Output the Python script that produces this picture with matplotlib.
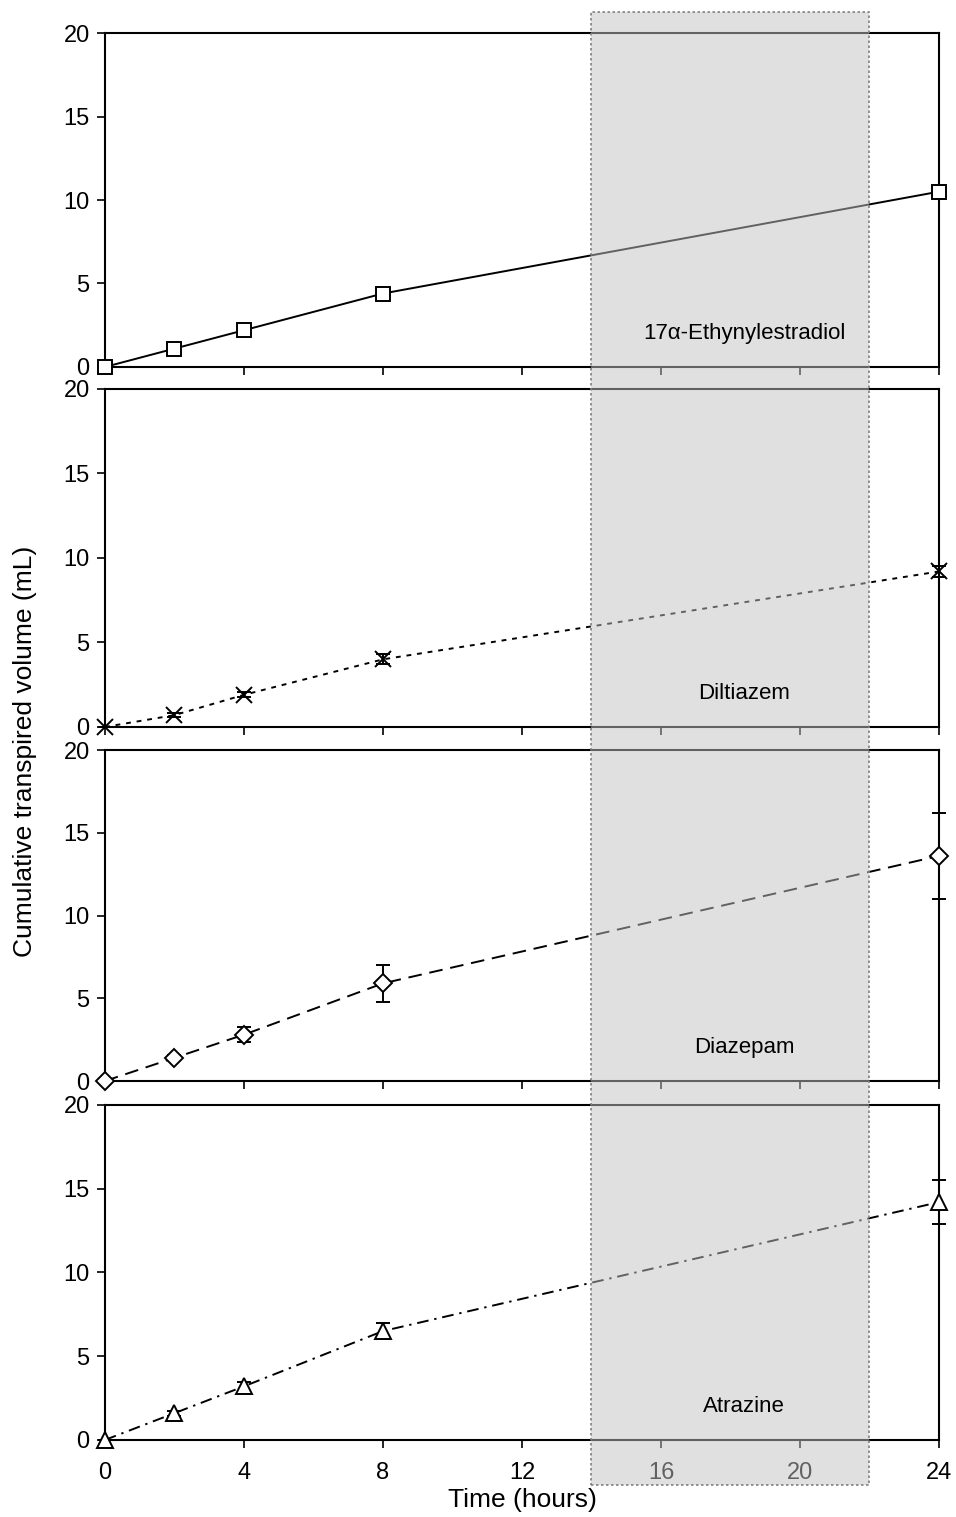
import matplotlib.pyplot as plt
from matplotlib.patches import Rectangle

plt.rcParams["font.family"] = ["Liberation Sans", "DejaVu Sans"]

hours = [0, 2, 4, 8, 24]

ee2_vol = [0, 1.1, 2.2, 4.4, 10.5]
ee2_err = [0, 0, 0, 0, 0]

diltiazem_vol = [0, 0.7, 1.9, 4.0, 9.2]
diltiazem_err = [0, 0.1, 0.15, 0.3, 0.35]

diazepam_vol = [0, 1.4, 2.8, 5.9, 13.6]
diazepam_err = [0, 0.15, 0.45, 1.1, 2.6]

atrazine_vol = [0, 1.6, 3.2, 6.5, 14.2]
atrazine_err = [0, 0.15, 0.25, 0.5, 1.3]

compounds = ["17α-Ethynylestradiol", "Diltiazem", "Diazepam", "Atrazine"]
volumes = [ee2_vol, diltiazem_vol, diazepam_vol, atrazine_vol]
errors = [ee2_err, diltiazem_err, diazepam_err, atrazine_err]
markers = ["s", "x", "D", "^"]
marker_sizes = [10, 11, 9, 11]
linestyles = ["-", (0, (2.5, 3)), (0, (7, 4)), (0, (6, 3, 1.2, 3))]

x_ticks = [0, 4, 8, 12, 16, 20, 24]
y_ticks = [0, 5, 10, 15, 20]
night_start, night_end = 14, 22

fig = plt.figure(figsize=(9.56, 15.17), dpi=100)

# panel extents in figure fractions: (bottom, top)
left, right = 0.1098, 0.9822
panel_rows = [(0.7581, 0.9782), (0.5208, 0.7436), (0.2874, 0.5056), (0.0508, 0.2716)]

axes = []
for i, (bottom, top) in enumerate(panel_rows):
    ax = fig.add_axes([left, bottom, right - left, top - bottom])
    ax.errorbar(hours, volumes[i], yerr=errors[i], color="black",
                linestyle=linestyles[i], linewidth=1.4,
                marker=markers[i], markersize=marker_sizes[i],
                markerfacecolor="white", markeredgecolor="black",
                markeredgewidth=1.4, ecolor="black", elinewidth=1.4,
                capsize=5, capthick=1.4, clip_on=False, zorder=3)
    ax.set_xlim(0, 24)
    ax.set_ylim(0, 20)
    ax.set_xticks(x_ticks)
    ax.set_yticks(y_ticks)
    ax.tick_params(direction="out", length=6, width=1.2, labelsize=17, pad=5)
    ax.tick_params(axis="x", pad=10)
    if i < 3:
        ax.tick_params(labelbottom=False)
    for spine in ax.spines.values():
        spine.set_linewidth(1.5)
    # compound name sits above the shaded band
    fig.text(18.4, 2.0, compounds[i], transform=ax.transData,
             ha="center", va="center", fontsize=16, zorder=12)
    axes.append(ax)

axes[-1].set_xlabel("Time (hours)", fontsize=19, labelpad=3)
fig.text(0.026, 0.505, "Cumulative transpired volume (mL)", rotation=90,
         ha="center", va="center", fontsize=19)

# shaded dark period spanning all panels
x0 = axes[0].transData.transform((night_start, 0))[0]
x1 = axes[0].transData.transform((night_end, 0))[0]
fx0 = fig.transFigure.inverted().transform((x0, 0))[0]
fx1 = fig.transFigure.inverted().transform((x1, 0))[0]
shade = Rectangle((fx0, 1 - 1485 / 1517), fx1 - fx0, (1485 - 12) / 1517,
                  transform=fig.transFigure, facecolor="#c3c3c3", alpha=0.5,
                  edgecolor="none", zorder=10)
border = Rectangle((fx0, 1 - 1485 / 1517), fx1 - fx0, (1485 - 12) / 1517,
                   transform=fig.transFigure, facecolor="none",
                   edgecolor="#808080", linestyle=(0, (1.5, 1.5)),
                   linewidth=1.2, zorder=11)
fig.patches.extend([shade, border])

fig.savefig("out.png", dpi=100)
